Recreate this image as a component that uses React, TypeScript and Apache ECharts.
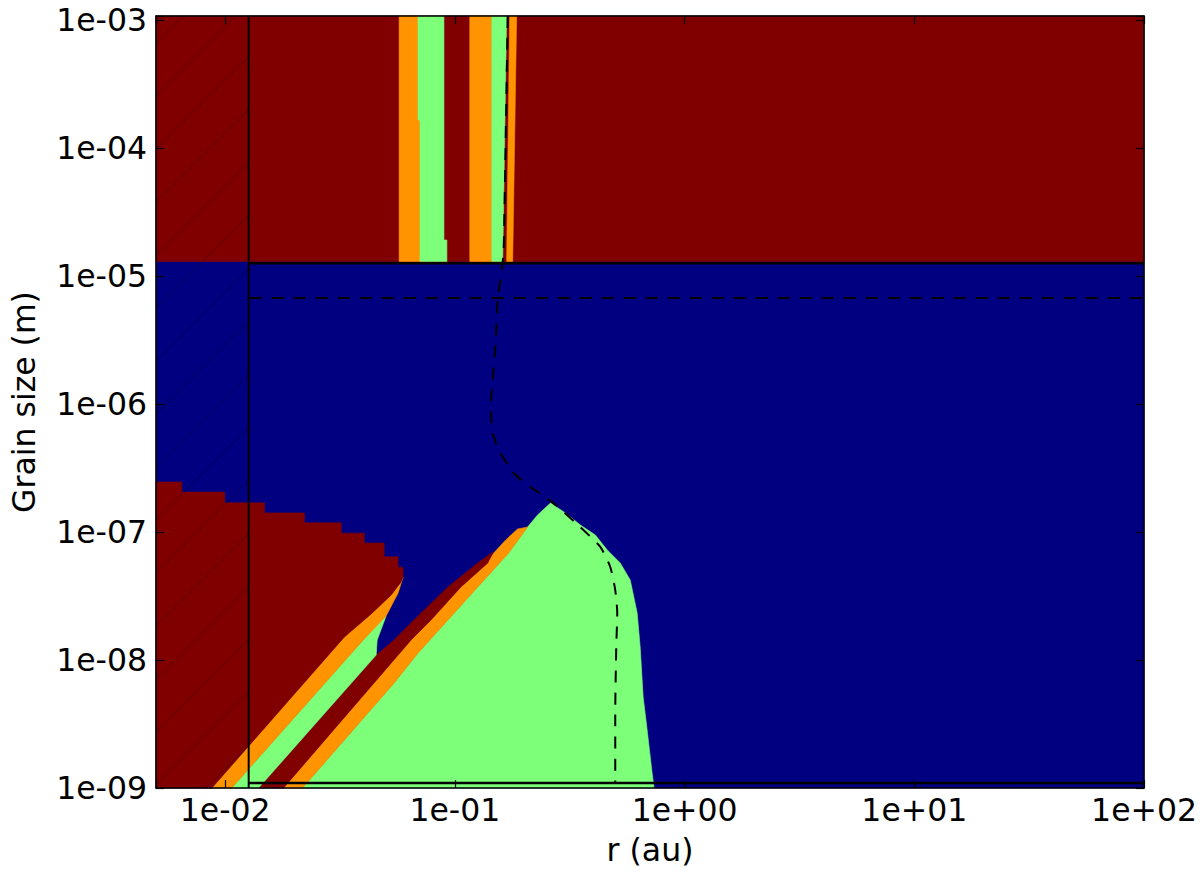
import React, { useEffect, useRef } from "react";
import * as echarts from "echarts";

type Pt = [number, number];

// Axis ranges
const R_MIN = 5e-3;
const R_MAX = 100;
const A_MIN = 1e-9;
const A_MAX = 1.075e-3;

// Colours (jet colormap levels)
const C_RED = "#800000";
const C_BLUE = "#000080";
const C_GREEN = "#7dff7a";
const C_ORANGE = "#ff9400";

// Boundaries
const domainR = 0.01266;
const domainTopA = 1.26e-5;
const domainBottomA = 1.094e-9;
const regimeSplitA = 1.3e-5;
const dashedLevelA = 6.73e-6;

// Regions (r in au, grain size in m)
const bgBlue: Pt[] = [[R_MIN, A_MIN], [R_MAX, A_MIN], [R_MAX, A_MAX], [R_MIN, A_MAX]];
const topRed: Pt[] = [[R_MIN, regimeSplitA], [R_MAX, regimeSplitA], [R_MAX, A_MAX], [R_MIN, A_MAX]];

const stripeOrange1: Pt[] = [
  [0.0572, regimeSplitA], [0.0705, regimeSplitA], [0.0705, 1.655e-4], [0.0691, 1.655e-4], [0.0691, A_MAX], [0.0572, A_MAX],
];
const stripeGreen1: Pt[] = [
  [0.0705, regimeSplitA], [0.0923, regimeSplitA], [0.0923, 1.91e-5], [0.0896, 1.91e-5], [0.0896, A_MAX], [0.0691, A_MAX], [0.0691, 1.655e-4], [0.0705, 1.655e-4],
];
const stripeOrange2: Pt[] = [[0.1161, regimeSplitA], [0.1447, regimeSplitA], [0.1447, A_MAX], [0.1161, A_MAX]];
const stripeGreen2: Pt[] = [[0.1447, regimeSplitA], [0.1615, regimeSplitA], [0.168, A_MAX], [0.1447, A_MAX]];
const stripeOrange3: Pt[] = [[0.168, regimeSplitA], [0.1785, regimeSplitA], [0.1857, A_MAX], [0.1732, A_MAX]];

const leftRed: Pt[] = [
  [5e-3, 2.46e-7], [6.48e-3, 2.46e-7], [6.48e-3, 2.05e-7], [9.96e-3, 2.05e-7], [9.96e-3, 1.69e-7],
  [1.485e-2, 1.69e-7], [1.485e-2, 1.41e-7], [2.214e-2, 1.41e-7], [2.214e-2, 1.18e-7], [3.203e-2, 1.18e-7],
  [3.203e-2, 9.8e-8], [4.03e-2, 9.8e-8], [4.03e-2, 8.2e-8], [4.92e-2, 8.2e-8], [4.92e-2, 6.4e-8],
  [5.66e-2, 6.4e-8], [5.66e-2, 5.3e-8], [5.95e-2, 5.3e-8], [5.95e-2, 4.45e-8], [5.83e-2, 4.07e-8],
  [5.28e-2, 3.22e-8], [4.32e-2, 2.29e-8], [3.3e-2, 1.51e-8], [8.75e-3, 1e-9], [5e-3, 1e-9],
];
const bandOrangeA: Pt[] = [
  [8.75e-3, 1e-9], [3.3e-2, 1.51e-8], [4.32e-2, 2.29e-8], [5.28e-2, 3.22e-8], [5.83e-2, 4.07e-8], [5.95e-2, 4.45e-8],
  [5.66e-2, 3.338e-8], [5.02e-2, 2.207e-8], [3.99e-2, 1.433e-8], [1.068e-2, 1e-9],
];
const bandGreenA: Pt[] = [
  [1.068e-2, 1e-9], [3.99e-2, 1.433e-8], [4.776e-2, 2.054e-8], [5.02e-2, 2.207e-8], [4.59e-2, 1.433e-8],
  [4.545e-2, 1.094e-8], [1.398e-2, 1e-9],
];
const bandRedB: Pt[] = [
  [1.398e-2, 1e-9], [4.545e-2, 1.094e-8], [5.438e-2, 1.433e-8], [6.641e-2, 2.054e-8], [9.324e-2, 3.718e-8],
  [0.1258, 5.727e-8], [0.1461, 6.98e-8], [0.139, 5.727e-8], [0.1062, 3.718e-8], [0.07868, 2.054e-8],
  [0.06445, 1.433e-8], [0.01795, 1e-9],
];
const bandOrangeB: Pt[] = [
  [0.01795, 1e-9], [0.06445, 1.433e-8], [0.07868, 2.054e-8], [0.1062, 3.718e-8], [0.139, 5.727e-8],
  [0.1476, 6.855e-8], [0.1664, 8.66e-8], [0.1875, 1.0555e-7], [0.2073, 1.094e-7], [0.1714, 6.855e-8],
  [0.1258, 3.718e-8], [0.09324, 2.054e-8], [0.06912, 1.134e-8], [0.05438, 6.61e-9], [0.02171, 1e-9],
];
const greenBlob: Pt[] = [
  [0.02171, 1e-9], [0.05438, 6.61e-9], [0.06912, 1.134e-8], [0.09324, 2.054e-8], [0.1258, 3.718e-8],
  [0.1714, 6.855e-8], [0.2073, 1.094e-7], [0.229, 1.358e-7], [0.2608, 1.685e-7], [0.3029, 1.408e-7],
  [0.3518, 1.134e-7], [0.4087, 9.475e-8], [0.4607, 7.234e-8], [0.5245, 5.727e-8], [0.5798, 4.217e-8],
  [0.6216, 2.33e-8], [0.6406, 1.263e-8], [0.6601, 5.14e-9], [0.687, 2.839e-9], [0.7221, 1.31e-9], [0.7367, 1e-9],
];

// Dashed curve
const dashedCurve: Pt[] = [
  [0.1698, A_MAX], [0.1631, 1.6e-5], [0.16, 1.11e-5], [0.1536, 6.49e-6], [0.1506, 3.16e-6], [0.1462, 1.54e-6],
  [0.1432, 9.49e-7], [0.1462, 5.93e-7], [0.1552, 4.38e-7], [0.1803, 2.89e-7], [0.2136, 2.25e-7],
  [0.2687, 1.68e-7], [0.3519, 1.09e-7], [0.4296, 7.64e-8], [0.4747, 5.33e-8], [0.499, 3.52e-8],
  [0.5091, 2.33e-8], [0.504, 1.26e-8], [0.499, 3.86e-9], [0.499, domainBottomA],
];
const dashedHorizontal: Pt[] = [[0.0128, dashedLevelA], [R_MAX, dashedLevelA]];
const solidVertical: Pt[] = [[domainR, A_MIN], [domainR, A_MAX]];
const solidTop: Pt[] = [[domainR, domainTopA], [R_MAX, domainTopA]];
const solidBottom: Pt[] = [[domainR, domainBottomA], [R_MAX, domainBottomA]];

const regions: { color: string; pts: Pt[] }[] = [
  { color: C_BLUE, pts: bgBlue },
  { color: C_RED, pts: topRed },
  { color: C_ORANGE, pts: stripeOrange1 },
  { color: C_GREEN, pts: stripeGreen1 },
  { color: C_ORANGE, pts: stripeOrange2 },
  { color: C_GREEN, pts: stripeGreen2 },
  { color: C_ORANGE, pts: stripeOrange3 },
  { color: C_GREEN, pts: greenBlob },
  { color: C_ORANGE, pts: bandOrangeB },
  { color: C_RED, pts: bandRedB },
  { color: C_GREEN, pts: bandGreenA },
  { color: C_ORANGE, pts: bandOrangeA },
  { color: C_RED, pts: leftRed },
];

const FONT = "DejaVu Sans";
const FS = 31.5;

const fmtLog = (v: number) => {
  const l = Math.log10(v);
  const e = Math.round(l);
  if (Math.abs(l - e) > 1e-6) return "";
  const a = Math.abs(e);
  return "1e" + (e < 0 ? "-" : "+") + (a < 10 ? "0" + a : "" + a);
};

const axisCommon = {
  type: "log" as const,
  logBase: 10,
  z: 10,
  splitLine: { show: false },
  minorTick: { show: false },
  axisLine: { show: true, lineStyle: { color: "#000", width: 1.5 } },
  axisTick: { show: true, inside: true, length: 8, lineStyle: { color: "#000", width: 1.2 } },
};

export default function App() {
  const ref = useRef<HTMLDivElement>(null);
  useEffect(() => {
    if (!ref.current) return;
    const chart = echarts.init(ref.current, undefined, { renderer: "svg" });
    const lineSeries = (data: Pt[], dashed: boolean, width: number) => ({
      type: "line",
      data,
      showSymbol: false,
      symbol: "none",
      z: 5,
      silent: true,
      lineStyle: { color: "#000", width, type: dashed ? [12, 10] : "solid" },
    });
    chart.setOption({
      animation: false,
      backgroundColor: "#fff",
      grid: { left: 154, top: 16, width: 992, height: 772, containLabel: false },
      xAxis: [
        {
          ...axisCommon,
          min: R_MIN,
          max: R_MAX,
          position: "bottom",
          name: "r (au)",
          nameLocation: "middle",
          nameGap: 46,
          nameTextStyle: { fontFamily: FONT, fontSize: FS, color: "#000" },
          axisLabel: { formatter: fmtLog, fontFamily: FONT, fontSize: FS, color: "#000", margin: 6 },
        },
        {
          ...axisCommon,
          min: R_MIN,
          max: R_MAX,
          position: "top",
          axisLabel: { show: false },
        },
      ],
      yAxis: [
        {
          ...axisCommon,
          min: A_MIN,
          max: A_MAX,
          position: "left",
          name: "Grain size (m)",
          nameLocation: "middle",
          nameGap: 116,
          nameTextStyle: { fontFamily: FONT, fontSize: FS, color: "#000" },
          axisLabel: { formatter: fmtLog, fontFamily: FONT, fontSize: FS, color: "#000", margin: 9 },
        },
        {
          ...axisCommon,
          min: A_MIN,
          max: A_MAX,
          position: "right",
          axisLabel: { show: false },
        },
      ],
      series: [
        {
          type: "custom",
          z: 2,
          silent: true,
          data: regions.map((r) => [r.pts[0][0], r.pts[0][1]]),
          encode: { x: 0, y: 1 },
          renderItem: (params: any, api: any) => {
            const reg = regions[params.dataIndex];
            const points = reg.pts.map((p) => api.coord(p));
            return {
              type: "polygon",
              shape: { points },
              style: { fill: reg.color, stroke: reg.color, lineWidth: 0.6 },
            };
          },
        },
        {
          type: "custom",
          z: 3,
          silent: true,
          data: [[R_MIN, A_MIN]],
          encode: { x: 0, y: 1 },
          renderItem: (params: any, api: any) => {
            const p0 = api.coord([R_MIN, A_MAX]);
            const p1 = api.coord([domainR, A_MIN]);
            const L = p0[0], T = p0[1], R = p1[0], B = p1[1];
            const children: any[] = [];
            const step = 53;
            for (let c = L + T + 27; c < R + B; c += step) {
              const xa = Math.max(L, c - B);
              const xb = Math.min(R, c - T);
              if (xb > xa) {
                children.push({
                  type: "line",
                  shape: { x1: xa, y1: c - xa, x2: xb, y2: c - xb },
                  style: { stroke: "rgba(0,0,0,0.3)", lineWidth: 1 },
                });
              }
            }
            return { type: "group", children };
          },
        },
        lineSeries(solidVertical, false, 2),
        lineSeries(solidTop, false, 2.5),
        lineSeries(solidBottom, false, 2.5),
        lineSeries(dashedHorizontal, true, 2),
        { ...lineSeries(dashedCurve, true, 2), smooth: 0.2 },
      ],
    });
    return () => chart.dispose();
  }, []);
  return (
    <div
      ref={ref}
      style={{ position: "absolute", left: 0, top: 0, width: 1200, height: 876, background: "#fff" }}
    />
  );
}
